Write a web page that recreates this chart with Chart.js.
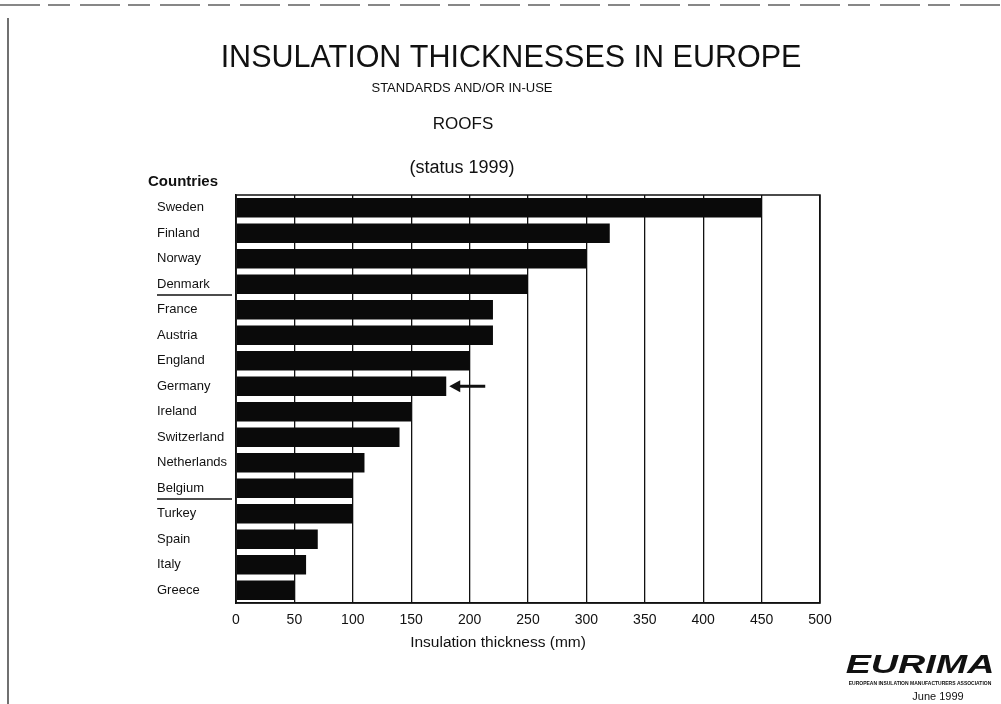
<!DOCTYPE html>
<html>
<head>
<meta charset="utf-8">
<script src="https://cdn.jsdelivr.net/npm/chart.js@4"></script>
<style>
  html, body { margin: 0; padding: 0; background: #fff; }
  #wrap { width: 1001px; height: 704px; position: relative; }
</style>
</head>
<body>
<div id="wrap"><canvas id="grafico" width="1001" height="704"></canvas></div>
<script>
const countries = ["Sweden", "Finland", "Norway", "Denmark", "France", "Austria", "England", "Germany",
  "Ireland", "Switzerland", "Netherlands", "Belgium", "Turkey", "Spain", "Italy", "Greece"];
const thickness = [450, 320, 300, 250, 220, 220, 200, 180, 150, 140, 110, 100, 100, 70, 60, 50];
const xTicks = [0, 50, 100, 150, 200, 250, 300, 350, 400, 450, 500];
// linhas separadoras depois destes paises
const dividersAfter = ["Denmark", "Belgium"];
const markedCountry = "Germany";

const FONT = '"Liberation Sans", Arial, Helvetica, sans-serif';

const extras = {
  id: "extras",
  afterDraw(chart) {
    const c = chart.ctx;
    const area = chart.chartArea;
    const x = chart.scales.x;
    const y = chart.scales.y;
    c.save();

    // moldura do grafico
    c.strokeStyle = "#111";
    c.lineWidth = 1.5;
    c.strokeRect(area.left, area.top, area.right - area.left, area.bottom - area.top);

    // borda da pagina (scan)
    c.lineWidth = 1.2;
    c.beginPath();
    c.moveTo(8, 18);
    c.lineTo(8, 704);
    c.stroke();
    c.setLineDash([40, 8, 22, 10]);
    c.beginPath();
    c.moveTo(0, 5);
    c.lineTo(1001, 5);
    c.stroke();
    c.setLineDash([]);

    // separadores
    c.lineWidth = 1.5;
    dividersAfter.forEach((name) => {
      const i = countries.indexOf(name);
      const yy = (y.getPixelForValue(i) + y.getPixelForValue(i + 1)) / 2 - 2;
      c.beginPath();
      c.moveTo(157, yy);
      c.lineTo(232, yy);
      c.stroke();
    });

    // seta na Alemanha
    const gi = countries.indexOf(markedCountry);
    const gy = y.getPixelForValue(gi);
    const gx = x.getPixelForValue(thickness[gi]) + 3;
    c.lineWidth = 3;
    c.beginPath();
    c.moveTo(gx + 8, gy);
    c.lineTo(gx + 36, gy);
    c.stroke();
    c.fillStyle = "#111";
    c.beginPath();
    c.moveTo(gx, gy);
    c.lineTo(gx + 11, gy - 6);
    c.lineTo(gx + 11, gy + 6);
    c.closePath();
    c.fill();

    // titulos
    c.fillStyle = "#111";
    c.textAlign = "center";
    c.textBaseline = "middle";
    c.font = "30.5px " + FONT;
    c.fillText("INSULATION THICKNESSES IN EUROPE", 511, 59);
    c.font = "13px " + FONT;
    c.fillText("STANDARDS AND/OR IN-USE", 462, 88);
    c.font = "17px " + FONT;
    c.fillText("ROOFS", 463, 124);
    c.font = "18px " + FONT;
    c.fillText("(status 1999)", 462, 168);
    c.font = "15.5px " + FONT;
    c.fillText("Insulation thickness (mm)", 498, 643);
    c.textAlign = "left";
    c.font = "bold 15px " + FONT;
    c.fillText("Countries", 148, 182);

    // logo
    c.save();
    c.translate(920, 666);
    c.scale(1.45, 1);
    c.textAlign = "center";
    c.font = "italic bold 26px " + FONT;
    c.fillText("EURIMA", 0, 0);
    c.restore();
    c.textAlign = "center";
    c.font = "bold 5px " + FONT;
    c.fillText("EUROPEAN INSULATION MANUFACTURERS ASSOCIATION", 920, 684);
    c.font = "11px " + FONT;
    c.fillText("June 1999", 938, 697);

    c.restore();
  },
};

const ctx = document.getElementById("grafico");

new Chart(ctx, {
  type: "bar",
  data: {
    labels: countries,
    datasets: [
      {
        label: "Insulation thickness (mm)",
        data: thickness,
        backgroundColor: "#0a0a0a",
        borderWidth: 0,
        barPercentage: 0.76,
        categoryPercentage: 1.0,
      },
    ],
  },
  options: {
    indexAxis: "y",
    responsive: false,
    animation: false,
    layout: {
      padding: { left: 157, right: 181, top: 195, bottom: 41 },
    },
    plugins: {
      legend: { display: false },
      tooltip: { enabled: false },
    },
    scales: {
      x: {
        min: 0,
        max: 500,
        afterFit: (scale) => { scale.height = 60; },
        afterBuildTicks: (scale) => {
          scale.ticks = xTicks.map((v) => ({ value: v }));
        },
        grid: {
          color: "#111",
          lineWidth: 1.3,
          drawTicks: false,
        },
        border: { color: "#111", width: 1.5 },
        ticks: {
          color: "#111",
          padding: 9,
          font: { family: FONT, size: 14 },
        },
      },
      y: {
        afterFit: (scale) => { scale.width = 79; },
        grid: { display: false },
        border: { color: "#111", width: 1.5 },
        ticks: {
          color: "#111",
          crossAlign: "far",
          font: { family: FONT, size: 13 },
        },
      },
    },
  },
  plugins: [extras],
});
</script>
</body>
</html>
